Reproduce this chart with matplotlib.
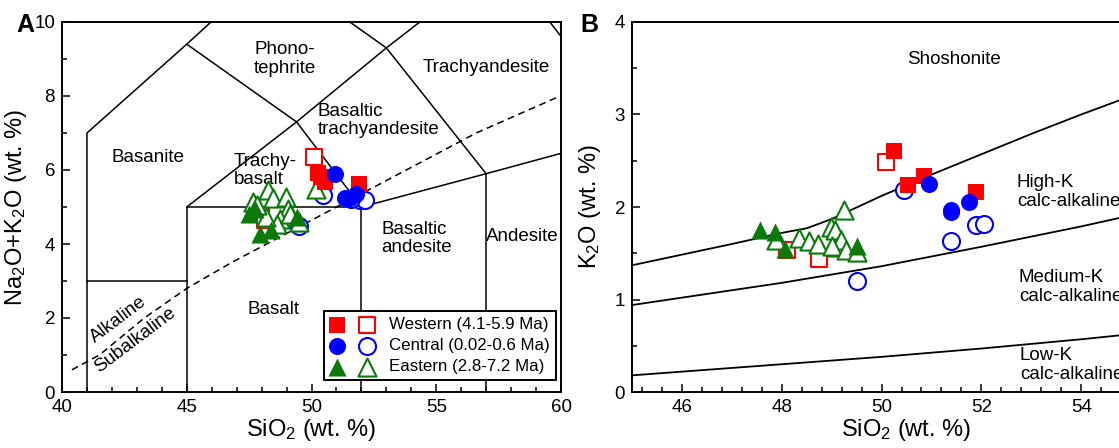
import matplotlib
matplotlib.use("Agg")
import matplotlib.pyplot as plt
from matplotlib.ticker import MultipleLocator
from matplotlib.legend_handler import HandlerTuple

plt.rcParams['font.family'] = ['Liberation Sans', 'DejaVu Sans']
plt.rcParams['mathtext.fontset'] = 'custom'
plt.rcParams['mathtext.rm'] = 'Liberation Sans'
plt.rcParams['mathtext.it'] = 'Liberation Sans:italic'

# ---- panel A data (TAS) ----
wA_fill_x = [50.27, 50.40, 50.54, 51.92]
wA_fill_y = [5.91, 5.80, 5.68, 5.62]
wA_open_x = [50.11, 48.14, 48.60]
wA_open_y = [6.34, 4.65, 4.78]
cA_fill_x = [50.95, 51.35, 51.55, 51.80]
cA_fill_y = [5.90, 5.25, 5.25, 5.35]
cA_open_x = [50.47, 51.94, 52.14, 49.51, 51.60]
cA_open_y = [5.32, 5.19, 5.20, 4.49, 5.22]
eA_fill_x = [47.50, 47.72, 47.94, 48.38, 49.41]
eA_fill_y = [4.82, 4.95, 4.28, 4.37, 4.73]
eA_open_x = [47.65, 48.24, 48.46, 48.97, 49.04, 48.75, 49.49, 48.60, 49.12, 48.16, 50.18, 47.80]
eA_open_y = [5.14, 5.45, 5.23, 5.27, 4.95, 4.68, 4.59, 4.55, 4.82, 4.73, 5.48, 5.05]

# ---- panel B data (K2O vs SiO2) ----
wB_fill_x = [50.25, 50.54, 50.86, 51.89]
wB_fill_y = [2.60, 2.24, 2.34, 2.16]
wB_open_x = [50.09, 48.10, 48.75]
wB_open_y = [2.49, 1.53, 1.44]
cB_fill_x = [50.95, 51.40, 51.40, 51.75]
cB_fill_y = [2.25, 1.97, 1.95, 2.05]
cB_open_x = [50.45, 51.40, 51.90, 52.05, 49.50]
cB_open_y = [2.18, 1.63, 1.80, 1.82, 1.20]
eB_fill_x = [47.57, 47.86, 48.07, 49.50]
eB_fill_y = [1.75, 1.73, 1.55, 1.58]
eB_open_x = [47.89, 48.34, 48.55, 48.73, 48.98, 49.07, 49.24, 49.11, 49.18, 49.00, 49.29, 49.50]
eB_open_y = [1.64, 1.67, 1.63, 1.60, 1.78, 1.75, 1.97, 1.57, 1.64, 1.58, 1.54, 1.51]

# TAS field boundaries
tas_lines = [
    ([41, 41, 45], [0, 3, 3]),
    ([45, 45, 52, 52], [0, 5, 5, 0]),
    ([52, 57, 63], [5, 5.9, 7]),
    ([57, 57], [0, 5.9]),
    ([41, 41, 45, 48.4], [3, 7, 9.4, 11.5]),
    ([45, 49.4, 53, 57.6], [5, 7.3, 9.3, 11.7]),
    ([52, 49.4, 45], [5, 7.3, 9.4]),
    ([57, 53, 48.4], [5.9, 9.3, 11.5]),
    ([63, 57.6], [7, 11.7]),
]
alk_x = [40.4, 41.5, 42.4, 43.3, 45.0, 46.8, 48.2, 49.6, 51.0, 53.8, 56.6, 59.8]
alk_y = [0.6, 1.0, 1.5, 2.0, 2.8, 3.5, 4.0, 4.5, 5.0, 6.0, 7.0, 7.95]

tas_labels = [
    ("Phono-\ntephrite", 47.7, 9.0, 'left'),
    ("Trachyandesite", 56.99, 8.78, 'center'),
    ("Basaltic\ntrachyandesite", 50.25, 7.34, 'left'),
    ("Basanite", 43.46, 6.35, 'center'),
    ("Trachy-\nbasalt", 46.87, 5.99, 'left'),
    ("Basaltic\nandesite", 52.79, 4.14, 'left'),
    ("Andesite", 56.99, 4.19, 'left'),
    ("Basalt", 48.46, 2.23, 'center'),
]

# K2O series boundaries
sho_x = [45, 47, 48, 48.5, 49, 50, 51, 52, 53, 54, 55, 56]
sho_y = [1.37, 1.60, 1.72, 1.77, 1.87, 2.12, 2.35, 2.57, 2.79, 3.00, 3.20, 3.40]
hk_x = [45, 47, 48, 50, 52, 54, 56]
hk_y = [0.94, 1.10, 1.18, 1.36, 1.57, 1.79, 2.03]
mk_x = [45, 48, 50, 52, 54, 56]
mk_y = [0.18, 0.30, 0.38, 0.47, 0.57, 0.68]

k_labels = [
    ("Shoshonite", 51.46, 3.59, 'center'),
    ("High-K\ncalc-alkaline", 52.71, 2.16, 'left'),
    ("Medium-K\ncalc-alkaline", 52.75, 1.14, 'left'),
    ("Low-K\ncalc-alkaline", 52.77, 0.29, 'left'),
]

legend_names = ["Western (4.1-5.9 Ma)", "Central (0.02-0.6 Ma)", "Eastern (2.8-7.2 Ma)"]

RED, BLUE, GREEN = '#ff0000', '#0000ff', '#0b7a0b'

fig = plt.figure(figsize=(11.19, 4.48), dpi=100)
axA = fig.add_axes([62/1119, 56/448, 499/1119, 370/448])
axB = fig.add_axes([632/1119, 56/448, 549/1119, 370/448])


def draw_points(ax, sets):
    handles = []
    for (fx, fy, ox, oy, col, mk, sz) in sets:
        ho = ax.scatter(ox, oy, s=sz, marker=mk, facecolors='white', edgecolors=col, linewidths=1.5, zorder=3)
        hf = ax.scatter(fx, fy, s=sz, marker=mk, color=col, linewidths=0, zorder=4)
        handles.append((hf, ho))
    return handles


def style(ax):
    for sp in ax.spines.values():
        sp.set_linewidth(1.4)
    ax.tick_params(which='both', direction='in', top=False, right=False, labelsize=13.5, width=1.1)
    ax.tick_params(which='major', length=6, pad=5)
    ax.tick_params(which='minor', length=3.5)


# ---- panel A ----
for xs, ys in tas_lines:
    axA.plot(xs, ys, color='black', lw=1.1, zorder=1)
axA.plot(alk_x, alk_y, color='black', lw=1.1, ls=(0, (4.5, 3)), zorder=1)
for txt, x, y, ha in tas_labels:
    axA.text(x, y, txt, ha=ha, va='center', fontsize=13.5, linespacing=1.1)
axA.text(42.28, 1.95, "Alkaline", rotation=37, ha='center', va='center', fontsize=13.5)
axA.text(42.94, 1.41, "Subalkaline", rotation=37, ha='center', va='center', fontsize=13.5)

hA = draw_points(axA, [
    (wA_fill_x, wA_fill_y, wA_open_x, wA_open_y, RED, 's', 140),
    (cA_fill_x, cA_fill_y, cA_open_x, cA_open_y, BLUE, 'o', 150),
    (eA_fill_x, eA_fill_y, eA_open_x, eA_open_y, GREEN, '^', 170),
])
axA.set_xlim(40, 60)
axA.set_ylim(0, 10)
axA.xaxis.set_major_locator(MultipleLocator(5))
axA.xaxis.set_minor_locator(MultipleLocator(1))
axA.yaxis.set_major_locator(MultipleLocator(2))
axA.yaxis.set_minor_locator(MultipleLocator(1))
style(axA)
axA.set_xlabel("SiO$_2$ (wt. %)", fontsize=17, labelpad=1)
axA.set_ylabel("Na$_2$O+K$_2$O (wt. %)", fontsize=17, labelpad=4)
leg = axA.legend(hA, legend_names, handler_map={tuple: HandlerTuple(ndivide=None, pad=0.9)},
                 loc='lower right', bbox_to_anchor=(0.99, 0.032), borderaxespad=0,
                 fontsize=12.2, handlelength=2.6, handletextpad=0.9, labelspacing=0.35,
                 fancybox=False, framealpha=1, edgecolor='black', borderpad=0.35, scatterpoints=1)
leg.get_frame().set_linewidth(1.4)
leg.set_zorder(6)

# ---- panel B ----
for xs, ys in [(sho_x, sho_y), (hk_x, hk_y), (mk_x, mk_y)]:
    axB.plot(xs, ys, color='black', lw=1.3, zorder=1)
for txt, x, y, ha in k_labels:
    axB.text(x, y, txt, ha=ha, va='center', fontsize=13.5, linespacing=1.15)
draw_points(axB, [
    (wB_fill_x, wB_fill_y, wB_open_x, wB_open_y, RED, 's', 140),
    (cB_fill_x, cB_fill_y, cB_open_x, cB_open_y, BLUE, 'o', 150),
    (eB_fill_x, eB_fill_y, eB_open_x, eB_open_y, GREEN, '^', 170),
])
axB.set_xlim(45, 56)
axB.set_ylim(0, 4)
axB.xaxis.set_major_locator(MultipleLocator(2))
axB.xaxis.set_minor_locator(MultipleLocator(0.4))
axB.yaxis.set_major_locator(MultipleLocator(1))
axB.yaxis.set_minor_locator(MultipleLocator(0.5))
style(axB)
axB.set_xlabel("SiO$_2$ (wt. %)", fontsize=17, labelpad=1)
axB.set_ylabel("K$_2$O (wt. %)", fontsize=17, labelpad=8)

fig.text(0.023, 0.944, "A", fontsize=18, fontweight='bold', ha='center', va='center')
fig.text(0.527, 0.944, "B", fontsize=18, fontweight='bold', ha='center', va='center')

fig.savefig("out.png", dpi=100)
